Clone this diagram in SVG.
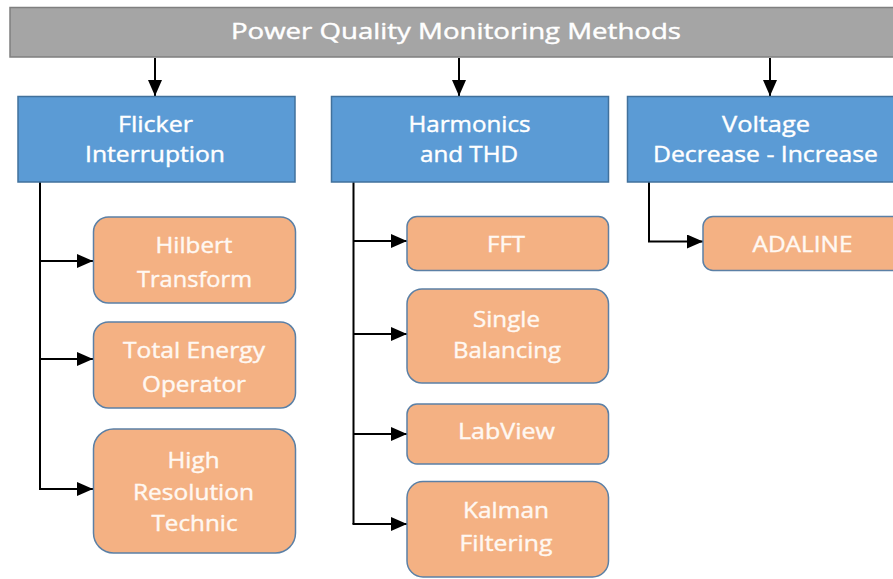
<svg xmlns="http://www.w3.org/2000/svg" width="893" height="579" viewBox="0 0 893 579">
  <style>
    .bar { fill: #a5a5a5; stroke: #7f7f7f; stroke-width: 1.5; }
    .cat { fill: #5b9bd5; stroke: #41719c; stroke-width: 1.5; }
    .item { fill: #f4b183; stroke: #5b80a6; stroke-width: 1.5; }
    .lbl { font-family: "Open Sans", "DejaVu Sans", sans-serif; font-size: 21px; fill: #ffffff; stroke: #ffffff; stroke-width: 0.4; text-anchor: middle; }
    .lbl2 { font-family: "Open Sans", "DejaVu Sans", sans-serif; font-size: 21px; fill: #fff8f2; stroke: #fff8f2; stroke-width: 0.4; text-anchor: middle; }
    .wire { fill: none; stroke: #000000; stroke-width: 2; }
  </style>
  <defs>
    <marker id="head" markerUnits="userSpaceOnUse" markerWidth="16" markerHeight="14" refX="16" refY="7" orient="auto">
      <path d="M0,0 L16,7 L0,14 Z" fill="#000000"/>
    </marker>
  </defs>

  <rect width="893" height="579" fill="#ffffff"/>

  <!-- connectors -->
  <g id="connectors">
    <line class="wire" x1="155" y1="58" x2="155" y2="96" marker-end="url(#head)"/>
    <line class="wire" x1="459" y1="58" x2="459" y2="96" marker-end="url(#head)"/>
    <line class="wire" x1="770" y1="58" x2="770" y2="96" marker-end="url(#head)"/>

    <polyline class="wire" points="40,182 40,489"/>
    <line class="wire" x1="40" y1="261" x2="93" y2="261" marker-end="url(#head)"/>
    <line class="wire" x1="40" y1="359" x2="93" y2="359" marker-end="url(#head)"/>
    <line class="wire" x1="39" y1="489" x2="93" y2="489" marker-end="url(#head)"/>

    <polyline class="wire" points="353.5,182 353.5,524"/>
    <line class="wire" x1="353.5" y1="241" x2="407" y2="241" marker-end="url(#head)"/>
    <line class="wire" x1="353.5" y1="334" x2="407" y2="334" marker-end="url(#head)"/>
    <line class="wire" x1="353.5" y1="434" x2="407" y2="434" marker-end="url(#head)"/>
    <line class="wire" x1="352.5" y1="524" x2="407" y2="524" marker-end="url(#head)"/>

    <polyline class="wire" points="649,182 649,241.5 703,241.5" marker-end="url(#head)"/>
  </g>

  <!-- root -->
  <g id="root">
    <rect class="bar" x="10" y="7.5" width="895" height="49.5"/>
    <text class="lbl" x="456" y="38.5" textLength="450" lengthAdjust="spacingAndGlyphs">Power Quality Monitoring Methods</text>
  </g>

  <!-- categories -->
  <g id="flicker">
    <rect class="cat" x="18" y="96.5" width="277" height="85.5"/>
    <text class="lbl" x="155.5" y="132" textLength="75" lengthAdjust="spacingAndGlyphs">Flicker</text>
    <text class="lbl" x="155" y="161.7" textLength="140" lengthAdjust="spacingAndGlyphs">Interruption</text>
  </g>
  <g id="harmonics">
    <rect class="cat" x="331.5" y="96.5" width="277" height="85.5"/>
    <text class="lbl" x="469.5" y="132" textLength="122" lengthAdjust="spacingAndGlyphs">Harmonics</text>
    <text class="lbl" x="469" y="161.7" textLength="98" lengthAdjust="spacingAndGlyphs">and THD</text>
  </g>
  <g id="voltage">
    <rect class="cat" x="627.5" y="96.5" width="280" height="85.5"/>
    <text class="lbl" x="766" y="132" textLength="88" lengthAdjust="spacingAndGlyphs">Voltage</text>
    <text class="lbl" x="765.5" y="161.7" textLength="225" lengthAdjust="spacingAndGlyphs">Decrease - Increase</text>
  </g>

  <!-- flicker methods -->
  <g id="hilbert">
    <rect class="item" x="93.5" y="217" width="202" height="86" rx="15"/>
    <text class="lbl2" x="194" y="253.3" textLength="77" lengthAdjust="spacingAndGlyphs">Hilbert</text>
    <text class="lbl2" x="194.5" y="286.7" textLength="115" lengthAdjust="spacingAndGlyphs">Transform</text>
  </g>
  <g id="teo">
    <rect class="item" x="93.5" y="322" width="202" height="86" rx="15"/>
    <text class="lbl2" x="194" y="358.3" textLength="142" lengthAdjust="spacingAndGlyphs">Total Energy</text>
    <text class="lbl2" x="194" y="391.7" textLength="104" lengthAdjust="spacingAndGlyphs">Operator</text>
  </g>
  <g id="hires">
    <rect class="item" x="93.5" y="429" width="202" height="124" rx="20"/>
    <text class="lbl2" x="193.5" y="468.3" textLength="52" lengthAdjust="spacingAndGlyphs">High</text>
    <text class="lbl2" x="193.5" y="500" textLength="121" lengthAdjust="spacingAndGlyphs">Resolution</text>
    <text class="lbl2" x="194.5" y="530.7" textLength="86" lengthAdjust="spacingAndGlyphs">Technic</text>
  </g>

  <!-- harmonics methods -->
  <g id="fft">
    <rect class="item" x="407" y="216.5" width="201.5" height="54" rx="10"/>
    <text class="lbl2" x="506" y="252.3" textLength="38" lengthAdjust="spacingAndGlyphs">FFT</text>
  </g>
  <g id="single">
    <rect class="item" x="407" y="289" width="201.5" height="94" rx="15"/>
    <text class="lbl2" x="506.5" y="326.7" textLength="67" lengthAdjust="spacingAndGlyphs">Single</text>
    <text class="lbl2" x="507" y="358.3" textLength="108" lengthAdjust="spacingAndGlyphs">Balancing</text>
  </g>
  <g id="labview">
    <rect class="item" x="407" y="404" width="201.5" height="60" rx="10"/>
    <text class="lbl2" x="506.5" y="439.3" textLength="97" lengthAdjust="spacingAndGlyphs">LabView</text>
  </g>
  <g id="kalman">
    <rect class="item" x="407" y="481.5" width="201.5" height="95.5" rx="16"/>
    <text class="lbl2" x="506" y="518.3" textLength="86" lengthAdjust="spacingAndGlyphs">Kalman</text>
    <text class="lbl2" x="506" y="550.7" textLength="93" lengthAdjust="spacingAndGlyphs">Filtering</text>
  </g>

  <!-- voltage methods -->
  <g id="adaline">
    <rect class="item" x="703" y="216.5" width="205" height="54" rx="10"/>
    <text class="lbl2" x="802.5" y="251.7" textLength="100" lengthAdjust="spacingAndGlyphs">ADALINE</text>
  </g>
</svg>
